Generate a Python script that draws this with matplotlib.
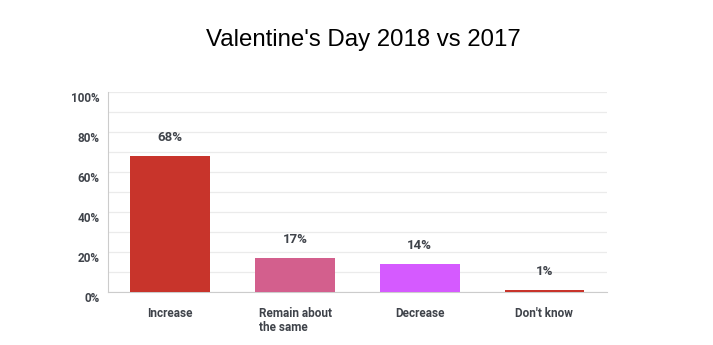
import matplotlib
matplotlib.use("Agg")
import matplotlib.pyplot as plt
import matplotlib.transforms as mtransforms
import numpy as np

categories = ["Increase", "Remain about\nthe same", "Decrease", "Don't know"]
values = [68, 17, 14, 1]
colors = ["#c8342b", "#d35f8d", "#d55aff", "#c8342b"]
yticks = [0, 20, 40, 60, 80, 100]

label_color = "#3f434a"
label_font = ["Roboto", "DejaVu Sans"]
plt.rcParams["font.family"] = ["Liberation Sans", "DejaVu Sans"]

fig = plt.figure(figsize=(7.13, 3.45), dpi=100)
ax = fig.add_axes([0.1515, 0.1536, 0.6995, 0.5797])

x = np.arange(len(categories))
ax.bar(x, values, width=0.64, color=colors, zorder=3)

for xi, v in zip(x, values):
    ax.annotate(f"{v}%", (xi, v), xytext=(0, 9), textcoords="offset points",
                ha="center", va="bottom", fontsize=9.5, fontweight="bold",
                color=label_color, family=label_font)

ax.set_xlim(-0.5, 3.5)
ax.set_ylim(0, 100)
ax.set_yticks(yticks)
ax.set_yticklabels([f"{t}%" for t in yticks])
ax.set_yticks(np.arange(10, 100, 20), minor=True)
ax.grid(axis="y", which="both", color="#ebebeb", linewidth=0.9, zorder=0)
ax.set_xticks(x)
ax.set_xticklabels(categories)
ax.get_xticklabels()[1].set_multialignment("left")
ax.get_xticklabels()[1].set_linespacing(1.1)

ax.tick_params(axis="both", which="both", length=0, labelsize=8.5, labelcolor=label_color)
ax.tick_params(axis="x", pad=11)
ax.tick_params(axis="y", pad=6)
shift = mtransforms.ScaledTranslation(0, -0.05, fig.dpi_scale_trans)
for lbl in ax.get_yticklabels():
    lbl.set_transform(lbl.get_transform() + shift)
for lbl in ax.get_xticklabels() + ax.get_yticklabels():
    lbl.set_fontweight("bold")
    lbl.set_family(label_font)

for s in ["top", "right"]:
    ax.spines[s].set_visible(False)
ax.spines["left"].set_color("#cccccc")
ax.spines["bottom"].set_color("#cccccc")

fig.text(0.509, 0.885, "Valentine's Day 2018 vs 2017", ha="center", va="center",
         fontsize=17.3, color="#000000")

fig.savefig("out.png", dpi=100)
